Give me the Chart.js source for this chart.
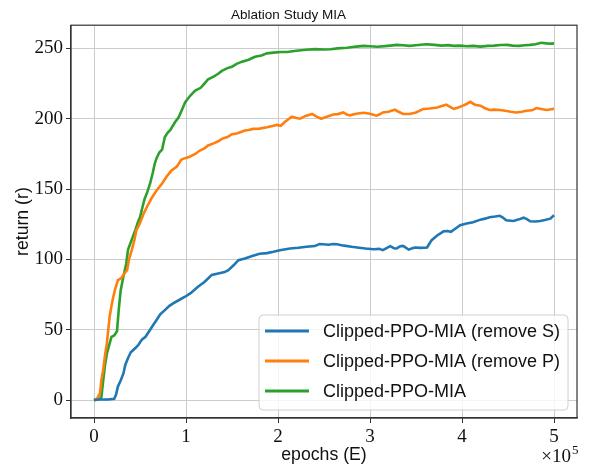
<!DOCTYPE html>
<html>
<head>
<meta charset="utf-8">
<script src="https://cdn.jsdelivr.net/npm/chart.js@4.4.1/dist/chart.umd.min.js"></script>
<style>
  html, body { margin: 0; padding: 0; background: #fff; }
  #wrap { width: 590px; height: 466px; }
</style>
</head>
<body>
<div id="wrap"><canvas id="chart" width="590" height="466"></canvas></div>
<script>
// epochs are in units of 1e5 (axis shows x10^5)
const xTicks = [0, 1, 2, 3, 4, 5];
const yTicks = [0, 50, 100, 150, 200, 250];

const labelRemoveS = "Clipped-PPO-MIA (remove S)";
const epochsRemoveS = [0, 0.05, 0.15, 0.22, 0.24, 0.26, 0.29, 0.32, 0.34, 0.37, 0.40, 0.45, 0.48, 0.52, 0.56, 0.61, 0.64, 0.68, 0.72, 0.77, 0.82, 0.86, 0.92, 0.99, 1.05, 1.13, 1.20, 1.24, 1.28, 1.35, 1.42, 1.46, 1.52, 1.57, 1.64, 1.72, 1.80, 1.88, 1.95, 2.02, 2.13, 2.22, 2.31, 2.40, 2.45, 2.49, 2.55, 2.60, 2.64, 2.72, 2.80, 2.86, 2.95, 3.04, 3.10, 3.14, 3.18, 3.22, 3.26, 3.29, 3.33, 3.36, 3.42, 3.46, 3.49, 3.55, 3.62, 3.67, 3.73, 3.80, 3.84, 3.88, 3.93, 3.98, 4.05, 4.12, 4.20, 4.25, 4.30, 4.36, 4.41, 4.44, 4.48, 4.56, 4.62, 4.67, 4.71, 4.74, 4.80, 4.85, 4.90, 4.96, 5.00];
const returnRemoveS = [0, 0.5, 0.5, 1, 4, 9.8, 14, 19, 25, 30, 34, 37, 39, 43, 45, 50, 53, 57, 61, 64, 67, 68.8, 71, 73.5, 76, 80.6, 84, 86.5, 89, 90, 91, 92.4, 96, 99.5, 100.7, 102.5, 104, 104.5, 105.4, 106.5, 107.8, 108.3, 109, 109.5, 111, 110.8, 110.5, 111, 110.8, 109.8, 109, 108.5, 107.8, 107.3, 107.5, 106.6, 108, 109.4, 108, 107.8, 109.4, 109.6, 107, 108, 108.5, 108.2, 108.5, 113.7, 117, 120, 120.2, 119.6, 122, 124.3, 125.5, 126.5, 128.3, 129, 130, 130.5, 131, 130, 127.8, 127.3, 128.5, 129.7, 128.5, 127.1, 127, 127.3, 128, 129, 131.4];

const labelRemoveP = "Clipped-PPO-MIA (remove P)";
const epochsRemoveP = [0, 0.03, 0.065, 0.08, 0.10, 0.12, 0.14, 0.155, 0.17, 0.19, 0.21, 0.23, 0.26, 0.28, 0.30, 0.33, 0.36, 0.38, 0.41, 0.44, 0.46, 0.50, 0.54, 0.58, 0.63, 0.68, 0.74, 0.79, 0.84, 0.90, 0.95, 0.99, 1.04, 1.10, 1.15, 1.20, 1.24, 1.30, 1.35, 1.39, 1.45, 1.50, 1.55, 1.59, 1.64, 1.68, 1.73, 1.80, 1.88, 1.95, 1.99, 2.03, 2.08, 2.15, 2.20, 2.24, 2.30, 2.37, 2.42, 2.47, 2.53, 2.60, 2.65, 2.71, 2.75, 2.78, 2.85, 2.93, 3.00, 3.07, 3.10, 3.14, 3.20, 3.27, 3.31, 3.36, 3.43, 3.50, 3.58, 3.65, 3.73, 3.78, 3.83, 3.87, 3.91, 3.96, 4.01, 4.05, 4.09, 4.14, 4.20, 4.25, 4.30, 4.35, 4.41, 4.47, 4.53, 4.59, 4.65, 4.70, 4.76, 4.81, 4.86, 4.92, 4.97, 5.00];
const returnRemoveP = [0, 0.5, 5, 14, 21.6, 32, 40.5, 50, 59.3, 67, 73.5, 79, 85.3, 86, 87, 90, 92.4, 100, 106.6, 114, 120.7, 126, 132.6, 138, 144, 149, 154, 159, 163, 166, 171, 172, 173, 175, 177.4, 179, 181, 182.5, 184, 185.7, 187, 189, 189.5, 190.4, 191.6, 192, 192.8, 193, 194, 195, 195.6, 195, 198, 201.5, 200.5, 200, 202, 203.4, 201.5, 200, 201.5, 203, 203.3, 204.5, 203, 202.4, 203.5, 204.3, 203.5, 202.2, 203, 204.5, 205, 206.4, 205, 203.4, 203.4, 204.5, 207, 207.3, 208, 209, 210, 208.5, 207, 208, 209.3, 210.5, 212, 210, 209.3, 207.5, 206.2, 206.5, 206.2, 205.7, 205, 204.5, 205, 205.7, 206, 207.6, 207, 206.2, 206.8, 207];

const labelFull = "Clipped-PPO-MIA";
const epochsFull = [0, 0.02, 0.06, 0.08, 0.10, 0.12, 0.14, 0.16, 0.19, 0.22, 0.25, 0.27, 0.29, 0.32, 0.35, 0.37, 0.41, 0.45, 0.48, 0.50, 0.53, 0.55, 0.58, 0.61, 0.64, 0.66, 0.68, 0.71, 0.74, 0.77, 0.80, 0.83, 0.88, 0.92, 0.96, 0.99, 1.04, 1.10, 1.16, 1.20, 1.24, 1.30, 1.35, 1.39, 1.45, 1.50, 1.55, 1.61, 1.68, 1.75, 1.82, 1.88, 1.95, 2.03, 2.10, 2.20, 2.31, 2.40, 2.50, 2.57, 2.65, 2.75, 2.85, 2.93, 3.00, 3.08, 3.16, 3.22, 3.29, 3.36, 3.43, 3.50, 3.58, 3.62, 3.70, 3.78, 3.85, 3.91, 3.98, 4.05, 4.12, 4.20, 4.28, 4.35, 4.42, 4.49, 4.55, 4.62, 4.68, 4.74, 4.80, 4.86, 4.92, 4.97, 5.00];
const returnFull = [0, 0.5, 1, 2, 14, 25, 33, 38, 45, 46, 49, 65, 78, 88, 97, 107, 114, 121, 127, 130, 138, 143, 148, 154, 162, 168, 172, 176, 178, 187, 190, 192, 197.5, 201, 207, 211.6, 216, 220, 222, 225, 228, 230, 232, 234, 236, 237, 239, 240.6, 242, 244, 245, 246.5, 247, 247.5, 247.5, 248.3, 249, 249.5, 249.2, 249.4, 250, 250.5, 251.3, 251.8, 251.5, 251.2, 251.6, 252, 252.5, 252.3, 251.8, 252.3, 252.8, 253, 252.5, 252, 252.3, 251.8, 252, 251.5, 251.8, 251.3, 251.8, 252, 252.4, 252.5, 252, 251.8, 252.3, 252.5, 253, 254, 253.6, 253.4, 253.6];

function toPoints(xs, ys) {
  return xs.map((x, i) => ({ x: x, y: ys[i] }));
}

const sans = "'Liberation Sans', Arial, sans-serif";
const serif = "'Liberation Serif', 'Times New Roman', serif";

const framePlugin = {
  id: "frame",
  afterDraw(chart) {
    const ctx = chart.ctx;
    const area = chart.chartArea;
    ctx.save();
    // full box around axes
    ctx.strokeStyle = "#333333";
    ctx.lineWidth = 1.2;
    ctx.strokeRect(area.left, area.top, area.right - area.left, area.bottom - area.top);

    // legend inside, lower right
    const bx = 259, by = 315, bw = 309, bh = 95, r = 4;
    ctx.beginPath();
    ctx.moveTo(bx + r, by);
    ctx.arcTo(bx + bw, by, bx + bw, by + bh, r);
    ctx.arcTo(bx + bw, by + bh, bx, by + bh, r);
    ctx.arcTo(bx, by + bh, bx, by, r);
    ctx.arcTo(bx, by, bx + bw, by, r);
    ctx.closePath();
    ctx.fillStyle = "rgba(255,255,255,0.8)";
    ctx.fill();
    ctx.strokeStyle = "#d0d0d0";
    ctx.lineWidth = 1;
    ctx.stroke();

    const rows = [331, 361, 391];
    ctx.font = "18px " + sans;
    ctx.textBaseline = "middle";
    ctx.textAlign = "left";
    chart.data.datasets.forEach((ds, i) => {
      ctx.strokeStyle = ds.borderColor;
      ctx.lineWidth = 2.8;
      ctx.beginPath();
      ctx.moveTo(265, rows[i]);
      ctx.lineTo(309, rows[i]);
      ctx.stroke();
      ctx.fillStyle = "#111111";
      ctx.fillText(ds.label, 323, rows[i] + 1);
    });

    // x10^5 offset label
    ctx.fillStyle = "#111111";
    ctx.textBaseline = "alphabetic";
    ctx.textAlign = "right";
    ctx.font = "19px " + serif;
    ctx.fillText("\u00d710", 571, 462);
    ctx.textAlign = "left";
    ctx.font = "13px " + serif;
    ctx.fillText("5", 572, 454);
    ctx.restore();
  },
};

new Chart(document.getElementById("chart"), {
  type: "line",
  data: {
    datasets: [
      { label: labelRemoveS, data: toPoints(epochsRemoveS, returnRemoveS), borderColor: "#1f77b4" },
      { label: labelRemoveP, data: toPoints(epochsRemoveP, returnRemoveP), borderColor: "#ff7f0e" },
      { label: labelFull, data: toPoints(epochsFull, returnFull), borderColor: "#2ca02c" },
    ],
  },
  options: {
    responsive: false,
    animation: false,
    layout: { padding: { top: 0, right: 13, bottom: 0, left: 0 } },
    elements: {
      point: { radius: 0 },
      line: { borderWidth: 2.6, tension: 0, fill: false },
    },
    plugins: {
      legend: { display: false },
      tooltip: { enabled: false },
      title: {
        display: true,
        text: "Ablation Study MIA",
        color: "#111111",
        font: { family: sans, size: 13.5, weight: "normal" },
        padding: { top: 7, bottom: 2 },
      },
    },
    scales: {
      x: {
        type: "linear",
        min: -0.25,
        max: 5.25,
        afterBuildTicks: (scale) => {
          scale.ticks = xTicks.map((v) => ({ value: v }));
        },
        afterFit: (scale) => {
          scale.height = 48;
        },
        ticks: {
          color: "#111111",
          font: { family: serif, size: 19 },
          padding: 3,
          maxRotation: 0,
          callback: (v) => String(v),
        },
        grid: { color: "#cccccc", lineWidth: 1, tickColor: "#333333", tickLength: 5 },
        border: { color: "#333333", width: 1.2 },
        title: {
          display: true,
          text: "epochs (E)",
          color: "#111111",
          font: { family: sans, size: 17.7 },
          padding: { top: 0, bottom: 0 },
        },
      },
      y: {
        type: "linear",
        min: -12.7,
        max: 266.5,
        afterBuildTicks: (scale) => {
          scale.ticks = yTicks.map((v) => ({ value: v }));
        },
        afterFit: (scale) => {
          scale.width = 71;
        },
        ticks: {
          color: "#111111",
          font: { family: serif, size: 19 },
          padding: 3,
          callback: (v) => String(v),
        },
        grid: { color: "#cccccc", lineWidth: 1, tickColor: "#333333", tickLength: 5 },
        border: { color: "#333333", width: 1.2 },
        title: {
          display: true,
          text: "return (r)",
          color: "#111111",
          font: { family: sans, size: 17.7 },
          padding: { top: 12, bottom: 0 },
        },
      },
    },
  },
  plugins: [framePlugin],
});
</script>
</body>
</html>
